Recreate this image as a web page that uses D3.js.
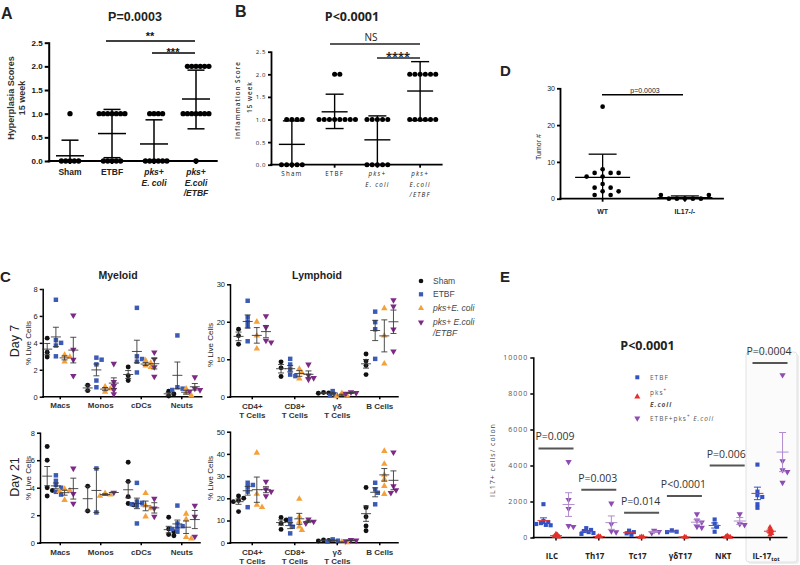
<!DOCTYPE html>
<html><head><meta charset="utf-8">
<script src="https://cdn.jsdelivr.net/npm/d3@7"></script>
<style>body{margin:0;background:#fff}svg{display:block}</style>
</head><body><svg id="c" width="800" height="565"></svg>
<script>
// ---------- DATA ----------
const abCategories = ["Sham","ETBF","pks+\nE. coli","pks+\nE.coli\n/ETBF"];
const aTicks = [0,0.5,1,1.5,2,2.5];
const aValues = [[1,0,0,0,0,0],[1,1,1,1,1,1,1,0,0,0,0,0],[1,1,1,1,0,0,0,0,0,0],[2,2,2,2,2,2,1,1,1,1,1,1,1,0]];
const aMean = [0.11,0.58,0.36,1.31];
const aLow = [0,0.07,0,0.68];
const aHigh = [0.44,1.09,0.87,1.92];
const bValues = [[1,1,1,1,0,0,0,0,0],[2,2,1,1,1,1,1,1,1,1],[1,1,1,1,1,0,0,0,0,0],[2,2,2,2,2,2,1,1,1,1,1,1]];
const bMean = [0.45,1.17,0.55,1.63];
const bLow = [0,0.8,0,0.98];
const bHigh = [0.97,1.56,1.08,2.28];
const dCategories = ["WT","IL17-/-"];
const dTicks = [0,10,20,30];
const dValues = [[25,8,7,7,7,6,6,4,3,3,2,2,1,1],[0,0,0,0,0,1,1]];
const dMean = [5.8,0.3];
const dLow = [0,0];
const dHigh = [12.1,0.75];

const cSeries = ["Sham","ETBF","pks+E. coli","pks+ E.coli\n/ETBF"];
const myeloidCats = ["Macs","Monos","cDCs","Neuts"];
const lymphoidCats = ["CD4+\nT Cells","CD8+\nT Cells","γδ\nT Cells","B Cells"];
const myeloidTicks = [0,2,4,6,8];
const lymph7Ticks = [0,10,20,30];
const lymph21Ticks = [0,10,20,30,40,50];
// [series][category] -> values
const day7Myeloid = [
  [[4.35,3.3,2.95],[0.85,0.45],[2.2,1.55,1.2],[0.4,0.2,0.05]],
  [[7.2,4.2,4.0,3.8,3.0],[2.9,2.75,2.4,1.2,0.7],[6.6,3.0,2.8,2.6,1.8],[4.55,0.7,0.6,0.5]],
  [[3.1,2.95,2.6],[0.75,0.6,0.35],[2.7,2.5,2.3,2.2],[0.6,0.3,0.1]],
  [[6.05,3.5,2.75,1.55],[2.45,1.1,0.8,0.5,0.2],[3.3,2.8,2.2,1.5],[1.45,0.6,0.5,0.4]]
];
const day7Lymphoid = [
  [[18,16.3,14],[9.3,7.7,5.4],[1.1,1.0,0.9],[11.4,9.5,8.3,5.9]],
  [[25.6,21.2,20,18.8,14.8],[10.1,8.6,7.3,5.9,5.5],[1.5,0.6,0.4],[22.7,19.9,18,10.1]],
  [[20,16.3,12.8],[7.4,6.4,4.8],[0.9,0.3,0.1],[23.6,16.3,8.8]],
  [[21.5,18.5,15,14.5],[8.6,5.7,5.0,4.6],[1.2,1.0,0.8],[25.8,24.1,18,12.1]]
];
const day21Myeloid = [
  [[7.0,6.0,4.0,3.8,3.4],[4.1,2.3],[5.85,4.45,3.35,2.85,2.75],[1.85,1.0,0.8,0.6,0.5]],
  [[4.9,4.5,4.2,4.0,3.7,3.5],[5.4,2.2],[4.35,3.0,2.9,2.8,2.7,1.4],[2.7,1.4,1.2,1.1,1.0,0.8]],
  [[3.9,3.8,3.75,3.1],[3.6,3.5,3.4],[3.6,2.7,2.5,1.9],[2.1,1.7,0.4,0.3]],
  [[5.4,3.55,2.85],[3.65],[3.2,2.5,1.9],[2.7,1.9,0.45]]
];
const day21Lymphoid = [
  [[21,20,19,18.5,14],[11.4,10.2,8.7,6.0],[1.2,1.0,0.8],[24.9,15.9,11.7,7.5,5.4]],
  [[27,26,25,23,16],[10.7,8.7,7.2,4.2],[1.5,0.9,0.5],[27,24,22.5,17.3]],
  [[40.5,22,17,16],[19.7,11.7,9.5,7.2,5.7],[0.3,0.1],[41.3,35.5,30.5,28.6,25.5,21.9]],
  [[27.5,24,23,21],[10.5,9.5,8.7],[1.3,1.0,0.7],[40.7,25.5,23.7,22.5]]
];

const eCategories = ["ILC","Th17","Tc17","γδT17","NKT","IL-17tot"];
const eSeries = ["ETBF","pks+ E.coli","ETBF+pks+ E.coli"];
const eTicks = [0,2000,4000,6000,8000,10000];
const eValues = [
  [[1850,920,860,800,750,700,680],[520,420,360,300,250,200],[380,300,230,150],[400,320,300],[1000,750,600,320],[4050,2550,2350,2250,1850,1650]],
  [[200,150,100,80,50,30],[80,50,30],[50,30,20],[30,20],[100,50,30,20],[570,460,380,300,230,150]],
  [[4200,2100,1600,650,600],[1900,750,350,300],[380,320,250],[1300,950,850,600,550],[1300,750,700],[9030,4250,3750,3650,3050]]
];
const ePLabels = ["P=0.009","P=0.003","P=0.014","P<0.0001","P=0.006","P=0.0004"];
const ePBarLevel = [4950,2650,1380,2300,4000,9700];

// ---------- HELPERS ----------
const svg = d3.select("#c");
const FF = '"Liberation Sans", Arial, sans-serif';
const OS = '"Open Sans", sans-serif';

function dodge(vals, y, minDist, step){
  const placed=[], out=[];
  vals.forEach(v=>{
    const py=y(v);
    for(let k=0;k<400;k++){
      const off = k===0?0:(k%2?1:-1)*Math.ceil(k/2)*step;
      if(placed.every(p=>Math.hypot(p.x-off,p.y-py)>=minDist-1e-6)){placed.push({x:off,y:py});out.push({dx:off,y:py});break;}
    }
  });
  return out;
}
function drawGroup(g, cx, vals, y, s){
  const pos=dodge(vals,y,s.minDist,s.step);
  const gen=d3.symbol().type(s.symbol).size(s.size);
  g.selectAll(null).data(pos).join("path").attr("d",gen)
    .attr("transform",d=>`translate(${cx+d.dx},${d.y})${s.invert?" rotate(180)":""}`)
    .attr("fill",s.color);
  let mean=s.mean, lo=s.lo, hi=s.hi;
  if(mean==null){ mean=d3.mean(vals); if(vals.length>1){const se=d3.deviation(vals)/Math.sqrt(vals.length); lo=mean-se; hi=mean+se;} }
  const bc=s.barColor||s.color;
  const ln=(x1,y1,x2,y2,c)=>g.append("line").attr("x1",x1).attr("y1",y1).attr("x2",x2).attr("y2",y2).attr("stroke",c).attr("stroke-width",s.sw);
  const y0=y.domain()[0];
  if(hi!=null){
    ln(cx,y(Math.max(lo,y0)),cx,y(hi),bc);
    ln(cx-s.capHalf,y(hi),cx+s.capHalf,y(hi),bc);
    if(lo>y0) ln(cx-s.capHalf,y(lo),cx+s.capHalf,y(lo),bc);
  }
  ln(cx-s.meanHalf,y(mean),cx+s.meanHalf,y(mean),s.meanColor||bc);
}
function yAxis(g,y,x,ticks,fmt,o){
  const a=g.append("g").attr("transform",`translate(${x},0)`)
    .call(d3.axisLeft(y).tickValues(ticks).tickFormat(fmt).tickSize(o.ts||4).tickSizeOuter(0).tickPadding(o.pad||2));
  a.attr("font-family",o.ff||FF).attr("font-size",o.fs);
  a.select(".domain").attr("stroke","#000").attr("stroke-width",o.sw).attr("stroke-linecap","square");
  a.selectAll(".tick line").attr("stroke","#000").attr("stroke-width",o.sw);
  a.selectAll(".tick text").attr("fill",o.fill||"#111").attr("font-weight",o.fw||"normal").style("letter-spacing",o.ls||"0px");
}
function xAxis(g,x0,x1,yy,sw,xs,tick){
  g.append("line").attr("x1",x0).attr("x2",x1).attr("y1",yy).attr("y2",yy).attr("stroke","#000").attr("stroke-width",sw).attr("stroke-linecap","square");
  if(tick){
    const a=g.append("g").attr("transform",`translate(0,${yy})`).call(d3.axisBottom(xs).tickSize(tick).tickFormat(""));
    a.select(".domain").remove();
    a.selectAll(".tick line").attr("stroke","#000").attr("stroke-width",sw);
  }
}
function catLabels(g,xs,cats,y0,lh,o){
  cats.forEach(c=>{
    const lines=c.split("\n");
    const t=g.append("text").attr("x",xs(c)+xs.bandwidth()/2+(o.dx||0)).attr("y",y0)
      .attr("text-anchor","middle").attr("font-family",o.ff||FF).attr("font-size",o.fs)
      .attr("font-weight",o.fw||"bold").attr("fill",o.fill||"#222").style("letter-spacing",o.ls||"0px");
    lines.forEach((l,i)=>t.append("tspan").attr("x",xs(c)+xs.bandwidth()/2+(o.dx||0)).attr("dy",i?lh:0)
      .attr("font-style",(o.italic&&/pks|E\.|\/ETBF/.test(c))?"italic":"normal").text(l));
  });
}
function text(g,x,y,s,o){
  return g.append("text").attr("x",x).attr("y",y).attr("text-anchor",o.anchor||"middle")
    .attr("font-family",o.ff||FF).attr("font-size",o.fs).attr("font-weight",o.fw||"normal")
    .attr("font-style",o.fst||"normal").attr("fill",o.fill||"#111").style("letter-spacing",o.ls||"0px")
    .attr("transform",o.rot?`rotate(-90,${x},${y})`:null).text(s);
}
function hbar(g,x1,x2,y,sw,c){g.append("line").attr("x1",x1).attr("x2",x2).attr("y1",y).attr("y2",y).attr("stroke",c||"#000").attr("stroke-width",sw);}

// ---------- PANEL A ----------
{
  const g=svg.append("g");
  const y=d3.scaleLinear().domain([0,2.5]).range([161,42.7]);
  const x=d3.scaleBand().domain(abCategories).range([49,217]);
  yAxis(g,y,48.7,aTicks,d3.format(".1f"),{fs:8,fw:"bold",sw:2,ts:4,pad:2});
  xAxis(g,48.7,216.7,y(0),2,x,3);
  abCategories.forEach((c,i)=>drawGroup(g,x(c)+x.bandwidth()/2,aValues[i],y,
    {symbol:d3.symbolCircle,size:22,color:"#000",minDist:4.3,step:4.3,mean:aMean[i],lo:aLow[i],hi:aHigh[i],meanHalf:14,capHalf:8.5,sw:1.5}));
  catLabels(g,x,abCategories,175,10.5,{fs:8.5,fw:"bold",italic:true,fill:"#222"});
  text(g,1,19,"A",{anchor:"start",fs:16,fw:"bold",fill:"#222"});
  text(g,135,21,"P=0.0003",{fs:12.5,fw:"bold",fill:"#222"});
  text(g,14,98,"Hyperplasia Scores",{fs:9,fw:"bold",fill:"#333",rot:true});
  text(g,25,98,"15 week",{fs:9,fw:"bold",fill:"#333",rot:true});
  hbar(g,106,195,41,1.6);
  text(g,150,40,"**",{fs:11,fw:"bold"});
  hbar(g,152,195,53,1.6);
  text(g,173,56,"***",{fs:11,fw:"bold"});
}
// ---------- PANEL B ----------
{
  const g=svg.append("g");
  const y=d3.scaleLinear().domain([0,2.5]).range([164.7,51.7]);
  const x=d3.scaleBand().domain(abCategories).range([270.5,441.5]);
  yAxis(g,y,271,aTicks,d3.format(".1f"),{fs:6,sw:1.8,ts:3,pad:2,ff:OS,ls:"0.6px",fill:"#222"});
  xAxis(g,271,441.7,y(0),1.8,x,3);
  abCategories.forEach((c,i)=>drawGroup(g,x(c)+x.bandwidth()/2,bValues[i],y,
    {symbol:d3.symbolCircle,size:20,color:"#000",minDist:5.2,step:5.2,mean:bMean[i],lo:bLow[i],hi:bHigh[i],meanHalf:13,capHalf:9,sw:1.4}));
  catLabels(g,x,abCategories,176,10.5,{fs:6.2,fw:"normal",italic:true,ff:OS,ls:"1.2px",fill:"#222"});
  text(g,235,17,"B",{anchor:"start",fs:16,fw:"bold",fill:"#222"});
  text(g,352,21,"P<0.0001",{fs:12.5,fw:"bold",ff:OS,fill:"#222"});
  text(g,240,100,"Inflammation Score",{fs:6.3,fw:"600",ff:OS,ls:"1px",fill:"#333",rot:true});
  text(g,252,97,"15 week",{fs:6.3,fw:"600",ff:OS,ls:"1px",fill:"#333",rot:true});
  hbar(g,330,420,44,1.6,"#222");
  text(g,371,41,"NS",{fs:10,ff:OS,fill:"#222"});
  hbar(g,377,420,58,1.6,"#222");
  text(g,398,60,"****",{fs:11,fw:"bold",ff:OS,fill:"#222"});
}
// ---------- PANEL D ----------
{
  const g=svg.append("g");
  const y=d3.scaleLinear().domain([0,30]).range([198.7,88.3]);
  const x=d3.scaleBand().domain(dCategories).range([561.5,726]);
  yAxis(g,y,560,dTicks,d3.format("d"),{fs:7,sw:1.8,ts:3,pad:2,fill:"#222"});
  xAxis(g,560,723,y(0),1.8,x,3);
  dCategories.forEach((c,i)=>drawGroup(g,x(c)+x.bandwidth()/2,dValues[i],y,
    {symbol:d3.symbolCircle,size:17,color:"#000",minDist:6,step:4,mean:dMean[i],lo:dLow[i],hi:dHigh[i],meanHalf:27.5,capHalf:14,sw:1.3}));
  catLabels(g,x,dCategories,213.5,10,{fs:7,fw:"bold",fill:"#222"});
  text(g,500,76,"D",{anchor:"start",fs:15,fw:"bold",fill:"#222"});
  text(g,541,147,"Tumor #",{fs:7,fill:"#222",rot:true});
  hbar(g,602,683,94.7,1.5);
  text(g,645,92.5,"p=0.0003",{fs:7,fill:"#222"});
}
// ---------- PANEL C ----------
const cColors=["#111111","#3b5bb5","#f5a13a","#7d2a86"];
const cSymbols=[d3.symbolCircle,d3.symbolSquare,d3.symbolTriangle,d3.symbolTriangle];
const cSizes=[19,20,18,18];
function cPanel(data,cats,yDom,yRange,ticks,axisX,axisEnd,xr,labY,lh){
  const g=svg.append("g");
  const y=d3.scaleLinear().domain(yDom).range(yRange);
  const x=d3.scaleBand().domain(cats).range(xr);
  const bw=x.bandwidth();
  const inner=d3.scaleBand().domain(cSeries).range([-0.43*bw,0.43*bw]);
  yAxis(g,y,axisX,ticks,d3.format("d"),{fs:7.5,sw:1.5,ts:3,pad:2,fill:"#222"});
  xAxis(g,axisX,axisEnd,y(0),1.5,x,2.5);
  cSeries.forEach((s,si)=>cats.forEach((c,ci)=>{
    const cx=x(c)+bw/2+inner(s)+inner.bandwidth()/2;
    drawGroup(g,cx,data[si][ci],y,{symbol:cSymbols[si],invert:si===3,size:cSizes[si],color:cColors[si],
      minDist:4,step:2.6,meanHalf:5,capHalf:3,sw:0.9,barColor:"#3a3a3a"});
  }));
  catLabels(g,x,cats,labY,lh,{fs:8,fw:"bold",fill:"#333"});
}
cPanel(day7Myeloid,myeloidCats,[0,8],[396.7,289],myeloidTicks,42.7,201.7,[40,202],408,9);
cPanel(day7Lymphoid,lymphoidCats,[0,30],[396.7,284.3],lymph7Ticks,230,398,[231,401],409,9);
cPanel(day21Myeloid,myeloidCats,[0,8],[542.7,432.7],myeloidTicks,40,200,[40,202],555,9);
cPanel(day21Lymphoid,lymphoidCats,[0,50],[542.7,431.7],lymph21Ticks,230,398,[231,401],555,9);
{
  const g=svg.append("g");
  text(g,0,282,"C",{anchor:"start",fs:15,fw:"bold",fill:"#222"});
  text(g,118,279,"Myeloid",{fs:10.5,fw:"bold",fill:"#222"});
  text(g,317,279,"Lymphoid",{fs:10.5,fw:"bold",fill:"#222"});
  text(g,19,341,"Day 7",{fs:12.5,fill:"#222",rot:true});
  text(g,19,477,"Day 21",{fs:12.5,fill:"#222",rot:true});
  text(g,31,343,"% Live Cells",{fs:8,fill:"#222",rot:true});
  text(g,31,478,"% Live Cells",{fs:8,fill:"#222",rot:true});
  text(g,213,345,"% Live Cells",{fs:8,fill:"#222",rot:true});
  text(g,213,478,"% Live Cells",{fs:8,fill:"#222",rot:true});
  const ly=[281,294.3,308.3,322.3];
  cSeries.forEach((s,i)=>{
    g.append("path").attr("d",d3.symbol().type(cSymbols[i]).size(cSizes[i]-2)())
      .attr("transform",`translate(421,${ly[i]})${i===3?" rotate(180)":""}`).attr("fill",cColors[i]);
    const t=g.append("text").attr("x",433).attr("y",ly[i]+3).attr("font-family",FF).attr("font-size",8.5)
      .attr("fill","#444").attr("font-style",i>=2?"italic":"normal");
    s.split("\n").forEach((l,k)=>t.append("tspan").attr("x",433).attr("dy",k?10.5:0).text(l));
  });
}
// ---------- PANEL E ----------
{
  const g=svg.append("g");
  g.append("rect").attr("x",748).attr("y",354).attr("width",51).attr("height",210).attr("rx",3).attr("fill","#eeeeee");
  g.append("rect").attr("x",746).attr("y",352).attr("width",51).attr("height",210).attr("rx",3).attr("fill","#fbfbfb").attr("stroke","#e2e2e2").attr("stroke-width",1);
  const y=d3.scaleLinear().domain([0,10000]).range([537.5,357.5]);
  const x=d3.scaleBand().domain(eCategories).range([534.6,791.4]);
  const bw=x.bandwidth();
  const inner=d3.scaleBand().domain(eSeries).range([-0.44*bw,0.44*bw]);
  yAxis(g,y,533.3,eTicks,d3.format("d"),{fs:7,sw:1.5,ts:3,pad:2,ff:OS,ls:"1px",fill:"#555"});
  xAxis(g,533.3,786.7,y(0),1.5,x,3);
  const eColors=["#3352c4","#e5302c","#8e4db3"];
  const eBar=["#3352c4","#e5302c","#b08bd0"];
  const eSym=[d3.symbolSquare,d3.symbolTriangle,d3.symbolTriangle];
  const eSize=[17,13,17];
  eSeries.forEach((s,si)=>eCategories.forEach((c,ci)=>{
    const cx=x(c)+bw/2+inner(s)+inner.bandwidth()/2;
    drawGroup(g,cx,eValues[si][ci],y,{symbol:eSym[si],invert:si===2,size:eSize[si],color:eColors[si],
      minDist:si===1?1.6:3.2,step:si===1?1.6:2.4,
      meanHalf:6,capHalf:3.5,sw:1,barColor:eBar[si],meanColor:si===0?"#e5302c":eBar[si]});
  }));
  eCategories.forEach((c,i)=>{
    const cx=x(c)+bw/2;
    hbar(g,cx-17.5,cx+17.5,y(ePBarLevel[i]),2,"#555");
    text(g,cx-1,y(ePBarLevel[i])-8,ePLabels[i],{fs:10.5,ff:OS,fill:"#333"});
    const t=text(g,cx-4,559,c==="IL-17tot"?"IL-17":c,{fs:8,fw:"bold",ff:OS,fill:"#222"});
    if(c==="IL-17tot") t.append("tspan").attr("font-size",5.5).attr("dy",2).text("tot");
  });
  text(g,500,282,"E",{anchor:"start",fs:15,fw:"bold",fill:"#222"});
  text(g,647.5,350,"P<0.0001",{fs:12.5,fw:"bold",ff:OS,fill:"#222"});
  text(g,495,460,"IL17+ cells/ colon",{fs:7,ff:OS,ls:"1px",fill:"#444",rot:true});
  // legend
  const lg=g.append("g").attr("font-family",OS).attr("font-size",6.5).attr("fill","#555").style("letter-spacing","1px");
  const ly=[377.3,396.7,418.3];
  eSeries.forEach((s,i)=>{
    lg.append("path").attr("d",d3.symbol().type(eSym[i]).size(16)())
      .attr("transform",`translate(637.3,${ly[i]})${i===2?" rotate(180)":""}`).attr("fill",eColors[i]);
  });
  lg.append("text").attr("x",650).attr("y",379.5).text("ETBF");
  const t2=lg.append("text").attr("x",650).attr("y",394.5);
  t2.append("tspan").text("pks"); t2.append("tspan").attr("font-size",4.5).attr("dy",-2.5).text("+");
  lg.append("text").attr("x",650).attr("y",406.5).attr("font-weight","bold").attr("font-style","italic").text("E.coli");
  const t3=lg.append("text").attr("x",650).attr("y",420.5);
  t3.append("tspan").text("ETBF+pks"); t3.append("tspan").attr("font-size",4.5).attr("dy",-2.5).text("+");
  t3.append("tspan").attr("dy",2.5).text(" "); t3.append("tspan").attr("font-style","italic").text("E.coli");
}
</script></body></html>
